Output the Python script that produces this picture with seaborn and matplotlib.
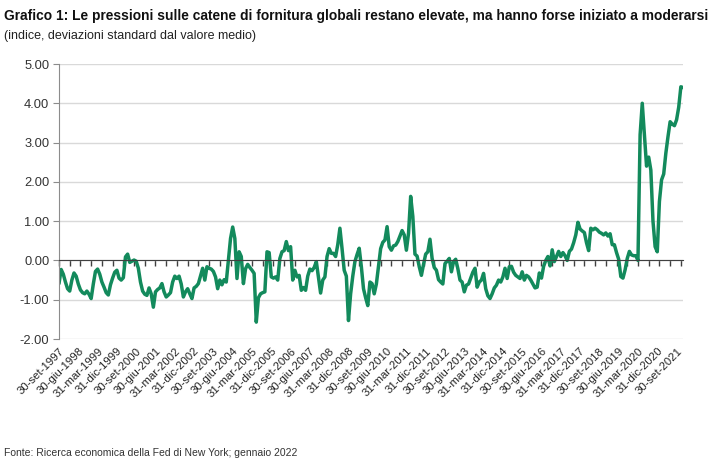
import matplotlib
matplotlib.use("Agg")
import matplotlib.pyplot as plt
import pandas as pd
import seaborn as sns

# Indice di pressione sulle catene di fornitura globali (GSCPI), mensile da set-1997
start_date = "1997-09-30"
gscpi = [
    -0.59, -0.23, -0.35, -0.55, -0.72, -0.78, -0.50, -0.32, -0.40, -0.60, -0.75, -0.82,
    -0.85, -0.78, -0.86, -0.97, -0.60, -0.28, -0.22, -0.35, -0.55, -0.68, -0.82, -0.88,
    -0.62, -0.45, -0.30, -0.25, -0.45, -0.50, -0.44, 0.09, 0.16, -0.05, -0.02, 0.01,
    -0.02, -0.20, -0.55, -0.78, -0.86, -0.89, -0.70, -0.85, -1.19, -0.80, -0.74, -0.70,
    -0.59, -0.80, -0.93, -0.88, -0.82, -0.55, -0.40, -0.46, -0.40, -0.60, -0.93, -0.80,
    -0.72, -0.85, -0.97, -0.70, -0.66, -0.59, -0.40, -0.20, -0.50, -0.16, -0.20, -0.22,
    -0.28, -0.42, -0.72, -0.50, -0.62, -0.49, -0.55, 0.00, 0.56, 0.85, 0.56, -0.46,
    0.22, 0.10, -0.59, -0.21, -0.10, -0.18, -0.25, -0.33, -1.57, -0.95, -0.85, -0.82,
    -0.80, 0.22, 0.20, -0.42, -0.45, -0.42, -0.50, 0.05, 0.22, 0.25, 0.48, 0.25,
    0.35, -0.50, -0.25, -0.42, -0.38, -0.76, -0.69, -0.76, -0.40, -0.22, -0.26, -0.18,
    -0.03, -0.42, -0.83, -0.50, -0.42, 0.10, 0.30, 0.18, 0.18, 0.10, 0.40, 0.82,
    0.30, -0.25, -0.40, -1.53, -0.85, -0.40, -0.03, 0.15, 0.31, -0.16, -0.72, -0.95,
    -1.15, -0.55, -0.59, -0.85, -0.60, -0.16, 0.30, 0.46, 0.52, 0.86, 0.35, 0.26,
    0.37, 0.39, 0.48, 0.62, 0.76, 0.65, 0.26, 0.69, 1.63, 1.12, 0.16, 0.11,
    -0.16, -0.38, -0.10, 0.16, 0.22, 0.54, 0.05, -0.18, -0.25, -0.49, -0.55, -0.60,
    -0.08, -0.02, 0.05, -0.29, -0.03, 0.03, -0.21, -0.50, -0.55, -0.80, -0.63, -0.60,
    -0.45, -0.30, -0.20, -0.68, -0.55, -0.50, -0.33, -0.72, -0.90, -0.97, -0.85, -0.70,
    -0.63, -0.50, -0.55, -0.42, -0.20, -0.46, -0.16, -0.15, -0.30, -0.38, -0.42, -0.46,
    -0.29, -0.50, -0.38, -0.42, -0.50, -0.60, -0.70, -0.68, -0.32, -0.45, -0.15, 0.00,
    0.10, -0.14, 0.27, -0.03, 0.10, 0.23, 0.10, 0.20, 0.12, 0.00, 0.23, 0.29,
    0.45, 0.65, 0.97, 0.80, 0.75, 0.71, 0.45, 0.25, 0.82, 0.78, 0.82, 0.78,
    0.72, 0.69, 0.65, 0.70, 0.62, 0.68, 0.40, 0.40, 0.20, 0.03, -0.41, -0.45,
    -0.24, 0.05, 0.23, 0.14, 0.12, 0.12, 0.00, 3.20, 4.00, 3.20, 2.40, 2.63,
    2.30, 1.00, 0.35, 0.22, 1.50, 2.05, 2.20, 2.73, 3.15, 3.53, 3.47, 3.43,
    3.58, 3.90, 4.42, 4.40,
]
mesi = ["gen", "feb", "mar", "apr", "mag", "giu", "lug", "ago", "set", "ott", "nov", "dic"]
y_ticks = [-2, -1, 0, 1, 2, 3, 4, 5]
label_step = 9
tick_step = 5

title = "Grafico 1: Le pressioni sulle catene di fornitura globali restano elevate, ma hanno forse iniziato a moderarsi"
subtitle = "(indice, deviazioni standard dal valore medio)"
source = "Fonte: Ricerca economica della Fed di New York; gennaio 2022"

dates = pd.date_range(start_date, periods=len(gscpi), freq="ME")
df = pd.DataFrame({"mese": range(len(gscpi)), "indice": gscpi})

sns.set_style("white")
plt.rcParams["font.family"] = ["Liberation Sans", "DejaVu Sans"]

fig = plt.figure(figsize=(7.25, 4.69), dpi=100)
ax = fig.add_axes([59 / 725, 1 - 339 / 469, 624 / 725, 275 / 469])

sns.lineplot(data=df, x="mese", y="indice", color="#138a5c", linewidth=2.5, ax=ax)

ax.set_xlim(0, len(gscpi) - 1)
ax.set_ylim(-2, 5)
ax.set_yticks(y_ticks)
ax.set_yticklabels([f"{v:.2f}" for v in y_ticks], fontsize=9.3, color="#333333")
ax.grid(axis="y", color="#d9d9d9", linewidth=1)
ax.set_axisbelow(True)
ax.set_xlabel("")
ax.set_ylabel("")

for s in ["top", "right"]:
    ax.spines[s].set_visible(False)
ax.spines["left"].set_color("#8c8c8c")
ax.tick_params(axis="y", left=True, length=4, color="#8c8c8c", direction="out", pad=3)

# asse orizzontale sullo zero con tacche ogni 5 mesi
ax.spines["bottom"].set_position(("data", 0))
ax.spines["bottom"].set_color("#404040")
ax.set_xticks(range(0, len(gscpi), tick_step))
ax.tick_params(axis="x", bottom=True, length=4, width=1, color="#404040",
               direction="out", labelbottom=False)

# etichette delle date in basso
sec = ax.secondary_xaxis("bottom")
pos = list(range(0, len(gscpi), label_step))
labels = [f"{dates[i].day}-{mesi[dates[i].month - 1]}-{dates[i].year}" for i in pos]
sec.set_xticks(pos)
sec.set_xticklabels(labels, rotation=45, ha="right", rotation_mode="anchor", fontsize=8.2, color="#222222")
sec.tick_params(length=0, pad=5)
sec.spines["bottom"].set_visible(False)

fig.text(0.006, 1 - 20 / 469, title, fontsize=9.95, fontweight="bold", color="#111111")
fig.text(0.006, 1 - 39 / 469, subtitle, fontsize=9, color="#222222")
fig.text(0.006, 1 - 456 / 469, source, fontsize=7.5, color="#333333")

plt.savefig("out.png", dpi=100)
